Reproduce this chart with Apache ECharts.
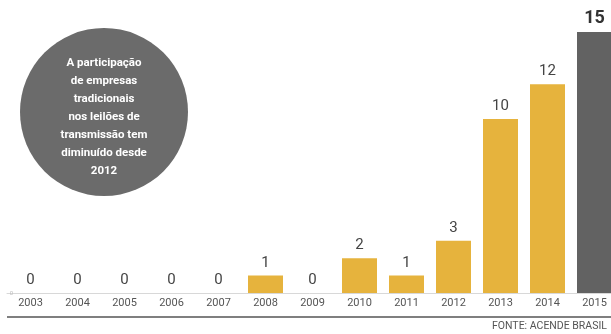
<!DOCTYPE html>
<html>
<head>
<meta charset="utf-8">
<script src="https://cdn.jsdelivr.net/npm/echarts@6/dist/echarts.min.js"></script>
<style>
  html, body { margin: 0; padding: 0; background: #fff; }
  #chart { width: 611px; height: 334px; }
</style>
</head>
<body>
<div id="chart"></div>
<script>
// anos e número de leilões
const years = ['2003', '2004', '2005', '2006', '2007', '2008', '2009', '2010', '2011', '2012', '2013', '2014', '2015'];
const values = [0, 0, 0, 0, 0, 1, 0, 2, 1, 3, 10, 12, 15];
const noteLines = ['A participação', 'de empresas', 'tradicionais', 'nos leilões de', 'transmissão tem', 'diminuído desde', '2012'];
const source = 'FONTE: ACENDE BRASIL';

const gold = '#e6b33d';
const grey = '#626262';
const font = 'Roboto';

const chart = echarts.init(document.getElementById('chart'));

const seriesData = values.map((v, i) => {
  const last = i === values.length - 1;
  return {
    value: v,
    itemStyle: { color: last ? grey : gold },
    label: last ? { fontSize: 18, fontWeight: 'bold', color: '#333' } : undefined
  };
});

chart.setOption({
  animation: false,
  backgroundColor: '#fff',
  grid: {
    left: 7, top: 32, right: -7, bottom: 41,
    containLabel: false,
    outerBoundsMode: 'none'   // laisser la dernière barre déborder
  },
  xAxis: {
    type: 'category',
    data: years,
    axisLine: { lineStyle: { color: '#d8d8d8', width: 1 } },
    axisTick: { show: false },
    axisLabel: { color: '#555', fontFamily: font, fontSize: 11, margin: 5 }
  },
  yAxis: {
    type: 'value',
    min: 0,
    max: 15,
    interval: 15,
    splitLine: { show: false },
    axisLine: { show: false },
    axisTick: { show: false },
    axisLabel: {
      color: '#bbb', fontSize: 6, margin: -6,
      formatter: v => (v === 0 ? '0' : '')
    }
  },
  series: [{
    type: 'bar',
    data: seriesData,
    barWidth: 35,
    label: {
      show: true,
      position: 'top',
      distance: 5,
      color: '#444',
      fontFamily: font,
      fontSize: 15
    }
  }],
  graphic: [
    {
      type: 'circle',
      shape: { cx: 104, cy: 112, r: 84 },
      style: { fill: '#6b6b6b' }
    },
    ...noteLines.map((t, i) => ({
      type: 'text',
      x: 104,
      y: 63 + i * 18,
      style: {
        text: t,
        fill: '#fff',
        font: 'bold 11.5px ' + font,
        textAlign: 'center',
        textVerticalAlign: 'middle'
      }
    })),
    {
      type: 'line',
      shape: { x1: 7, y1: 317, x2: 611, y2: 317 },
      style: { stroke: '#555', lineWidth: 1.5 }
    },
    {
      type: 'text',
      x: 492,
      y: 326,
      style: {
        text: source,
        fill: '#555',
        font: '10.5px ' + font,
        textVerticalAlign: 'middle'
      }
    }
  ]
});
</script>
</body>
</html>
